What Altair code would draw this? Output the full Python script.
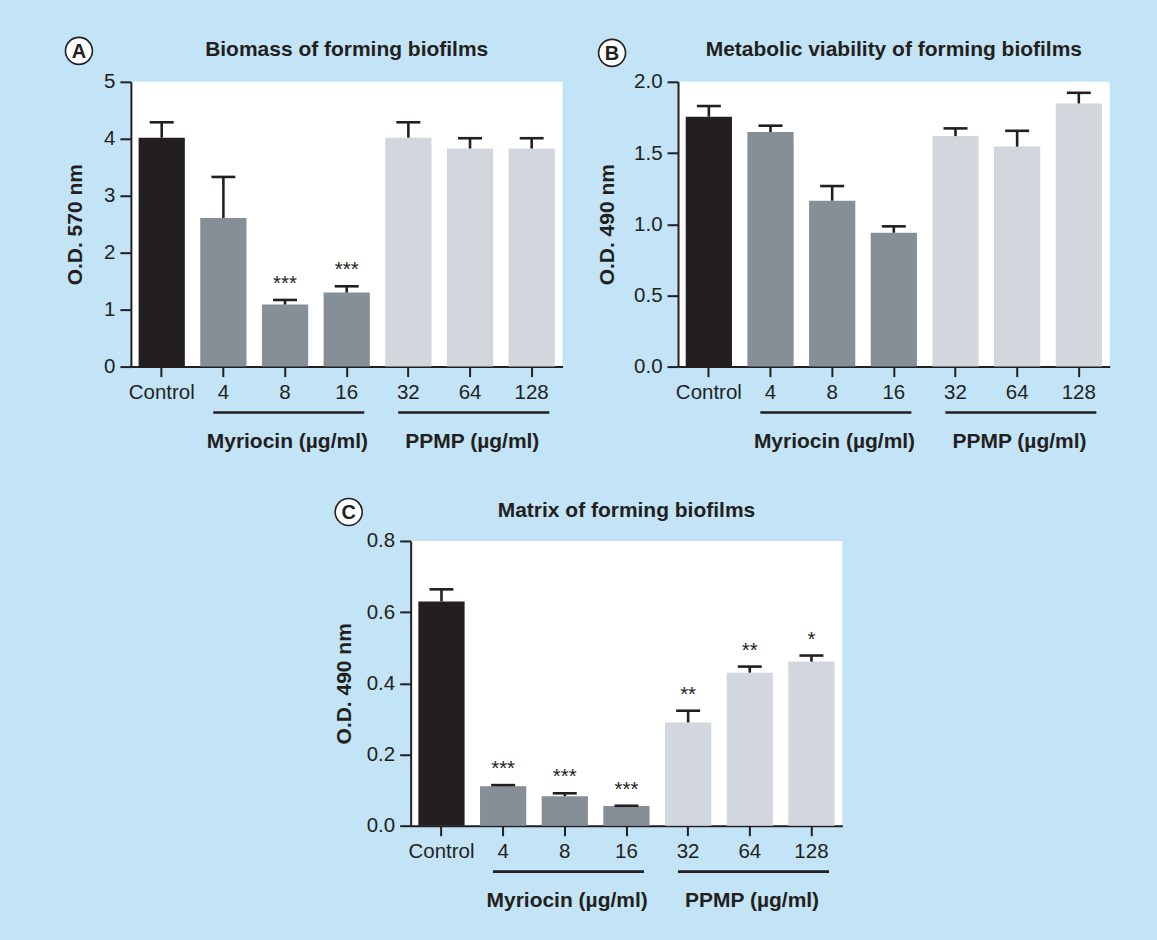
import altair as alt
import pandas as pd

# ---------------- data ----------------
labels = ["Control", "4", "8", "16", "32", "64", "128"]
groups = ["Control", "Myriocin", "Myriocin", "Myriocin", "PPMP", "PPMP", "PPMP"]

a_mean = [4.02, 2.61, 1.09, 1.30, 4.02, 3.83, 3.83]
a_sem = [0.27, 0.72, 0.08, 0.11, 0.27, 0.18, 0.18]
a_stars = ["", "", "***", "***", "", "", ""]

b_mean = [1.755, 1.647, 1.165, 0.940, 1.619, 1.545, 1.848]
b_sem = [0.075, 0.045, 0.103, 0.045, 0.054, 0.111, 0.075]
b_stars = ["", "", "", "", "", "", ""]

c_mean = [0.630, 0.111, 0.083, 0.055, 0.290, 0.430, 0.461]
c_sem = [0.034, 0.003, 0.008, 0.001, 0.033, 0.017, 0.017]
c_stars = ["", "***", "***", "***", "**", "**", "*"]

group_names = ["Myriocin (µg/ml)", "PPMP (µg/ml)"]
group_first = ["4", "32"]
group_mid = ["8", "64"]
group_last = ["16", "128"]

group_domain = ["Control", "Myriocin", "PPMP"]
group_colors = ["#231f20", "#868e96", "#d2d6dd"]

DARK = "#231f20"
FONT = "Liberation Sans"
W, H = 432, 285
LFS = 20.5   # tick label font size
BFS = 21     # bold text font size


def panel(mean, sem, stars, ymax, ticks, fmt, ytitle, title, letter,
          letter_xy, title_pad, title_y):
    df = pd.DataFrame({
        "label": labels,
        "group": groups,
        "mean": mean,
        "upper": [m + s for m, s in zip(mean, sem)],
        "stars": stars,
    })
    grp = pd.DataFrame({"name": group_names, "first": group_first,
                        "mid": group_mid, "last": group_last})

    xaxis = alt.Axis(title=None, labelAngle=0, labelFontSize=LFS, labelFont=FONT,
                     labelColor=DARK, tickSize=10, tickWidth=2, tickColor=DARK,
                     domainWidth=2, domainColor=DARK, labelPadding=6)
    xscale = alt.Scale(domain=labels, paddingInner=0.25, paddingOuter=0.125)
    yaxis = alt.Axis(values=ticks, format=fmt, title=ytitle, grid=False,
                     tickSize=11, tickWidth=2, tickColor=DARK, domainWidth=2,
                     domainColor=DARK, labelFontSize=LFS, labelFont=FONT,
                     labelColor=DARK, labelPadding=5, titleFontSize=BFS,
                     titleFont=FONT, titleFontWeight="bold", titleColor=DARK,
                     titlePadding=title_pad)
    yscale = alt.Scale(domain=[0, ymax], nice=False, zero=True)

    X = alt.X("label:N", scale=xscale, axis=xaxis)
    base = alt.Chart(df)

    bars = base.mark_bar().encode(
        x=X,
        y=alt.Y("mean:Q", scale=yscale, axis=yaxis),
        color=alt.Color("group:N", scale=alt.Scale(domain=group_domain,
                                                   range=group_colors),
                        legend=None),
    )
    stems = base.mark_rule(strokeWidth=2.6, color=DARK).encode(
        x=X, y=alt.Y("mean:Q"), y2="upper:Q")
    caps = base.mark_tick(size=24, thickness=2.6, color=DARK, opacity=1).encode(
        x=X, y=alt.Y("upper:Q"))
    star_txt = base.mark_text(fontSize=LFS, font=FONT, color=DARK,
                              baseline="alphabetic", dy=-10).encode(
        x=X, y=alt.Y("upper:Q"), text="stars:N")

    rules = alt.Chart(grp).mark_rule(strokeWidth=2.6, color=DARK).encode(
        x=alt.X("first:N", scale=xscale, axis=xaxis, bandPosition=0.28),
        x2=alt.X2("last:N", bandPosition=0.88),
        y=alt.value(H + 46),
    )
    gtext = alt.Chart(grp).mark_text(fontSize=BFS, font=FONT, fontWeight="bold",
                                     color=DARK, baseline="middle").encode(
        x=alt.X("mid:N", scale=xscale, axis=xaxis, bandPosition=0.55),
        y=alt.value(H + 75),
        text="name:N",
    )

    ldf = pd.DataFrame({"letter": [letter], "title": [title]})
    circ = alt.Chart(ldf).mark_point(shape="circle", size=729, filled=True,
                                     fill="white", stroke=DARK,
                                     strokeWidth=1.6, opacity=1).encode(
        x=alt.value(letter_xy[0]), y=alt.value(letter_xy[1]))
    ltxt = alt.Chart(ldf).mark_text(fontSize=20, font=FONT, fontWeight="bold",
                                    color=DARK, baseline="middle", dy=1).encode(
        x=alt.value(letter_xy[0]), y=alt.value(letter_xy[1]), text="letter:N")
    ttxt = alt.Chart(ldf).mark_text(fontSize=BFS, font=FONT, fontWeight="bold",
                                    color=DARK, baseline="alphabetic",
                                    align="center").encode(
        x=alt.value(W / 2), y=alt.value(title_y), text="title:N")

    return alt.layer(bars, stems, caps, star_txt, rules, gtext, circ, ltxt,
                     ttxt).properties(
        width=W, height=H,
        view=alt.ViewBackground(fill="white", stroke=None),
    )


pa = panel(a_mean, a_sem, a_stars, 5, [0, 1, 2, 3, 4, 5], "d", "O.D. 570 nm",
           "Biomass of forming biofilms", "A", (-52, -31), 18, -25.7)
pb = panel(b_mean, b_sem, b_stars, 2.0, [0, 0.5, 1.0, 1.5, 2.0], ".1f",
           "O.D. 490 nm", "Metabolic viability of forming biofilms", "B",
           (-66, -29), 16, -25.7)
pc = panel(c_mean, c_sem, c_stars, 0.8, [0, 0.2, 0.4, 0.6, 0.8], ".1f",
           "O.D. 490 nm", "Matrix of forming biofilms", "C", (-62, -29), 12,
           -24.3)

# empty layout spacer that pushes panel C to the right
spacer = alt.Chart(pd.DataFrame({"v": [0]})).mark_point(opacity=0).encode(
    x=alt.value(0), y=alt.value(0)).properties(
    width=279.3, height=H, view=alt.ViewBackground(fill=None, stroke=None))

top = alt.hconcat(pa, pb, spacing=115.6, bounds="flush")
bottom = alt.hconcat(spacer, pc, spacing=0, bounds="flush")

chart = alt.vconcat(top, bottom, spacing=43.5).properties(
    background="#c2e4f6",
    padding={"left": 62, "top": 33.5, "right": 47, "bottom": 28},
).configure_view(stroke=None)

chart.save("out.html", embed_options={"renderer": "svg", "actions": False})
